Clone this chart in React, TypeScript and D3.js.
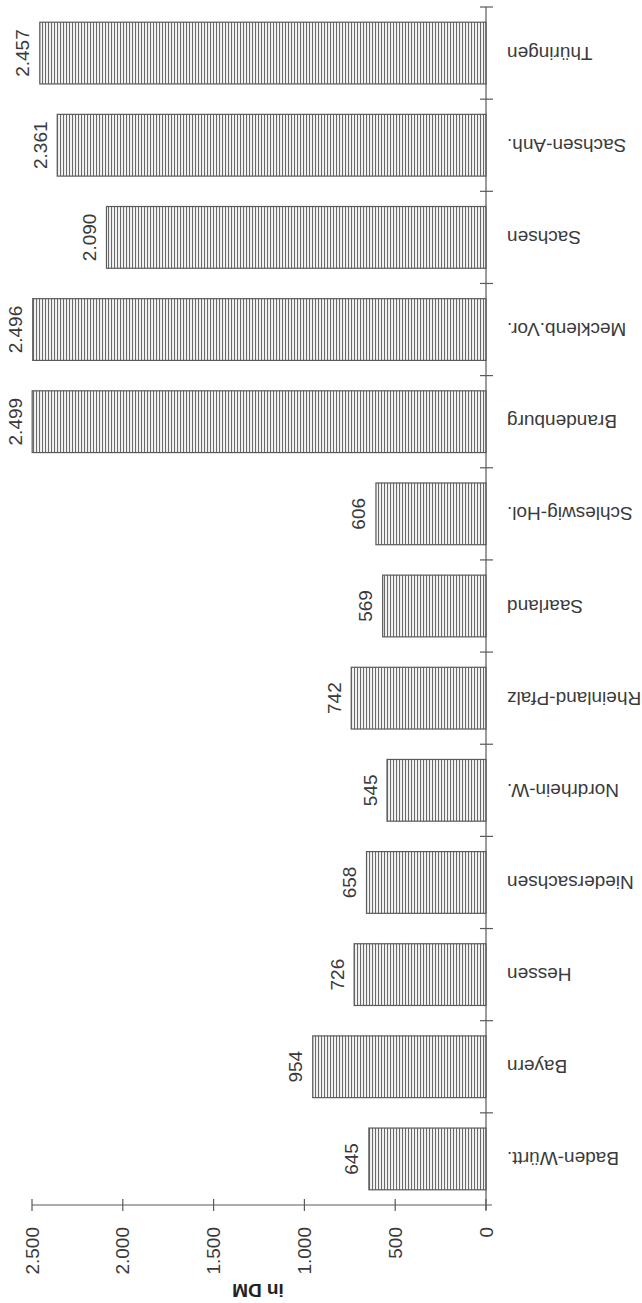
import { useEffect, useRef } from 'react';
import * as d3 from 'd3';

const categories = [
  'Baden-Württ.',
  'Bayern',
  'Hessen',
  'Niedersachsen',
  'Nordrhein-W.',
  'Rheinland-Pfalz',
  'Saarland',
  'Schleswig-Hol.',
  'Brandenburg',
  'Meckl­enb.Vor.',
  'Sachsen',
  'Sachsen-Anh.',
  'Thüringen',
];
const values = [645, 954, 726, 658, 545, 742, 569, 606, 2499, 2496, 2090, 2361, 2457];
const valueLabels = ['645', '954', '726', '658', '545', '742', '569', '606', '2.499', '2.496', '2.090', '2.361', '2.457'];
const tickValues = [0, 500, 1000, 1500, 2000, 2500];
const tickLabels = ['0', '500', '1.000', '1.500', '2.000', '2.500'];
const unitLabel = 'in DM';

export default function App() {
  const svgRef = useRef<SVGSVGElement>(null);

  useEffect(() => {
    if (!svgRef.current) return;
    const width = 642;
    const height = 1303;
    const svg = d3.select(svgRef.current);
    svg.selectAll('*').remove();
    svg.attr('width', width).attr('height', height);

    const font = "'Liberation Sans', Arial, sans-serif";
    const ink = '#3a3a3a';
    const lineCol = '#5a5a5a';

    const axisX = 486;
    const axisTop = 7;
    const axisBottom = 1205;

    // value runs right-to-left
    const x = d3.scaleLinear().domain([0, 2500]).range([axisX, 32]);
    // first category at the bottom
    const y = d3.scaleBand<string>()
      .domain(categories)
      .range([axisBottom, axisTop])
      .paddingInner(0.33)
      .paddingOuter(0.165);

    // hatch pattern
    const defs = svg.append('defs');
    const pat = defs.append('pattern')
      .attr('id', 'hatch')
      .attr('patternUnits', 'userSpaceOnUse')
      .attr('width', 3)
      .attr('height', 10);
    pat.append('rect').attr('width', 3).attr('height', 10).attr('fill', '#f4f4f4');
    pat.append('line')
      .attr('x1', 0.5).attr('x2', 0.5).attr('y1', 0).attr('y2', 10)
      .attr('stroke', '#6a6a6a').attr('stroke-width', 1.1);

    svg.append('rect').attr('width', width).attr('height', height).attr('fill', '#fff');

    // bars
    svg.append('g')
      .selectAll('rect')
      .data(categories)
      .join('rect')
      .attr('x', (_, i) => x(values[i]))
      .attr('y', d => y(d)!)
      .attr('width', (_, i) => x(0) - x(values[i]))
      .attr('height', y.bandwidth())
      .attr('fill', 'url(#hatch)')
      .attr('stroke', lineCol)
      .attr('stroke-width', 1.2);

    // value labels (rotated)
    svg.append('g')
      .selectAll('text')
      .data(categories)
      .join('text')
      .attr('transform', (d, i) => `translate(${x(values[i]) - 17},${y(d)! + y.bandwidth() / 2}) rotate(-90)`)
      .attr('text-anchor', 'middle')
      .attr('dominant-baseline', 'central')
      .attr('font-family', font)
      .attr('font-size', 19)
      .attr('fill', ink)
      .text((_, i) => valueLabels[i]);

    // category labels (upside down)
    svg.append('g')
      .selectAll('text')
      .data(categories)
      .join('text')
      .attr('transform', d => `translate(507,${y(d)! + y.bandwidth() / 2}) rotate(180)`)
      .attr('text-anchor', 'end')
      .attr('dominant-baseline', 'central')
      .attr('font-family', font)
      .attr('font-size', 19)
      .attr('fill', ink)
      .text(d => d.replace('\u00ad', ''));

    // category axis
    const axisG = svg.append('g').attr('stroke', lineCol).attr('stroke-width', 1.2);
    axisG.append('line')
      .attr('x1', axisX).attr('x2', axisX)
      .attr('y1', axisTop).attr('y2', axisBottom + 5);
    const step = y.step();
    categories.forEach(d => {
      const yy = y(d)! + y.bandwidth() / 2 - step / 2;
      axisG.append('line')
        .attr('x1', axisX - 6).attr('x2', axisX + 7)
        .attr('y1', yy).attr('y2', yy);
    });

    // value axis
    axisG.append('line')
      .attr('x1', x(2500)).attr('x2', axisX + 6)
      .attr('y1', axisBottom).attr('y2', axisBottom);
    tickValues.forEach(t => {
      axisG.append('line')
        .attr('x1', x(t)).attr('x2', x(t))
        .attr('y1', axisBottom - 6).attr('y2', axisBottom + 6);
    });

    svg.append('g')
      .selectAll('text')
      .data(tickValues)
      .join('text')
      .attr('transform', t => `translate(${x(t)},1227) rotate(-90)`)
      .attr('text-anchor', 'end')
      .attr('dominant-baseline', 'central')
      .attr('font-family', font)
      .attr('font-size', 19)
      .attr('fill', ink)
      .text((_, i) => tickLabels[i]);

    svg.append('text')
      .attr('transform', 'translate(258,1290) rotate(180)')
      .attr('text-anchor', 'middle')
      .attr('dominant-baseline', 'central')
      .attr('font-family', font)
      .attr('font-size', 19)
      .attr('font-weight', 'bold')
      .attr('fill', '#222')
      .text(unitLabel);
  }, []);

  return (
    <div style={{ position: 'absolute', left: 0, top: 0 }}>
      <svg ref={svgRef} style={{ display: 'block' }} />
    </div>
  );
}
